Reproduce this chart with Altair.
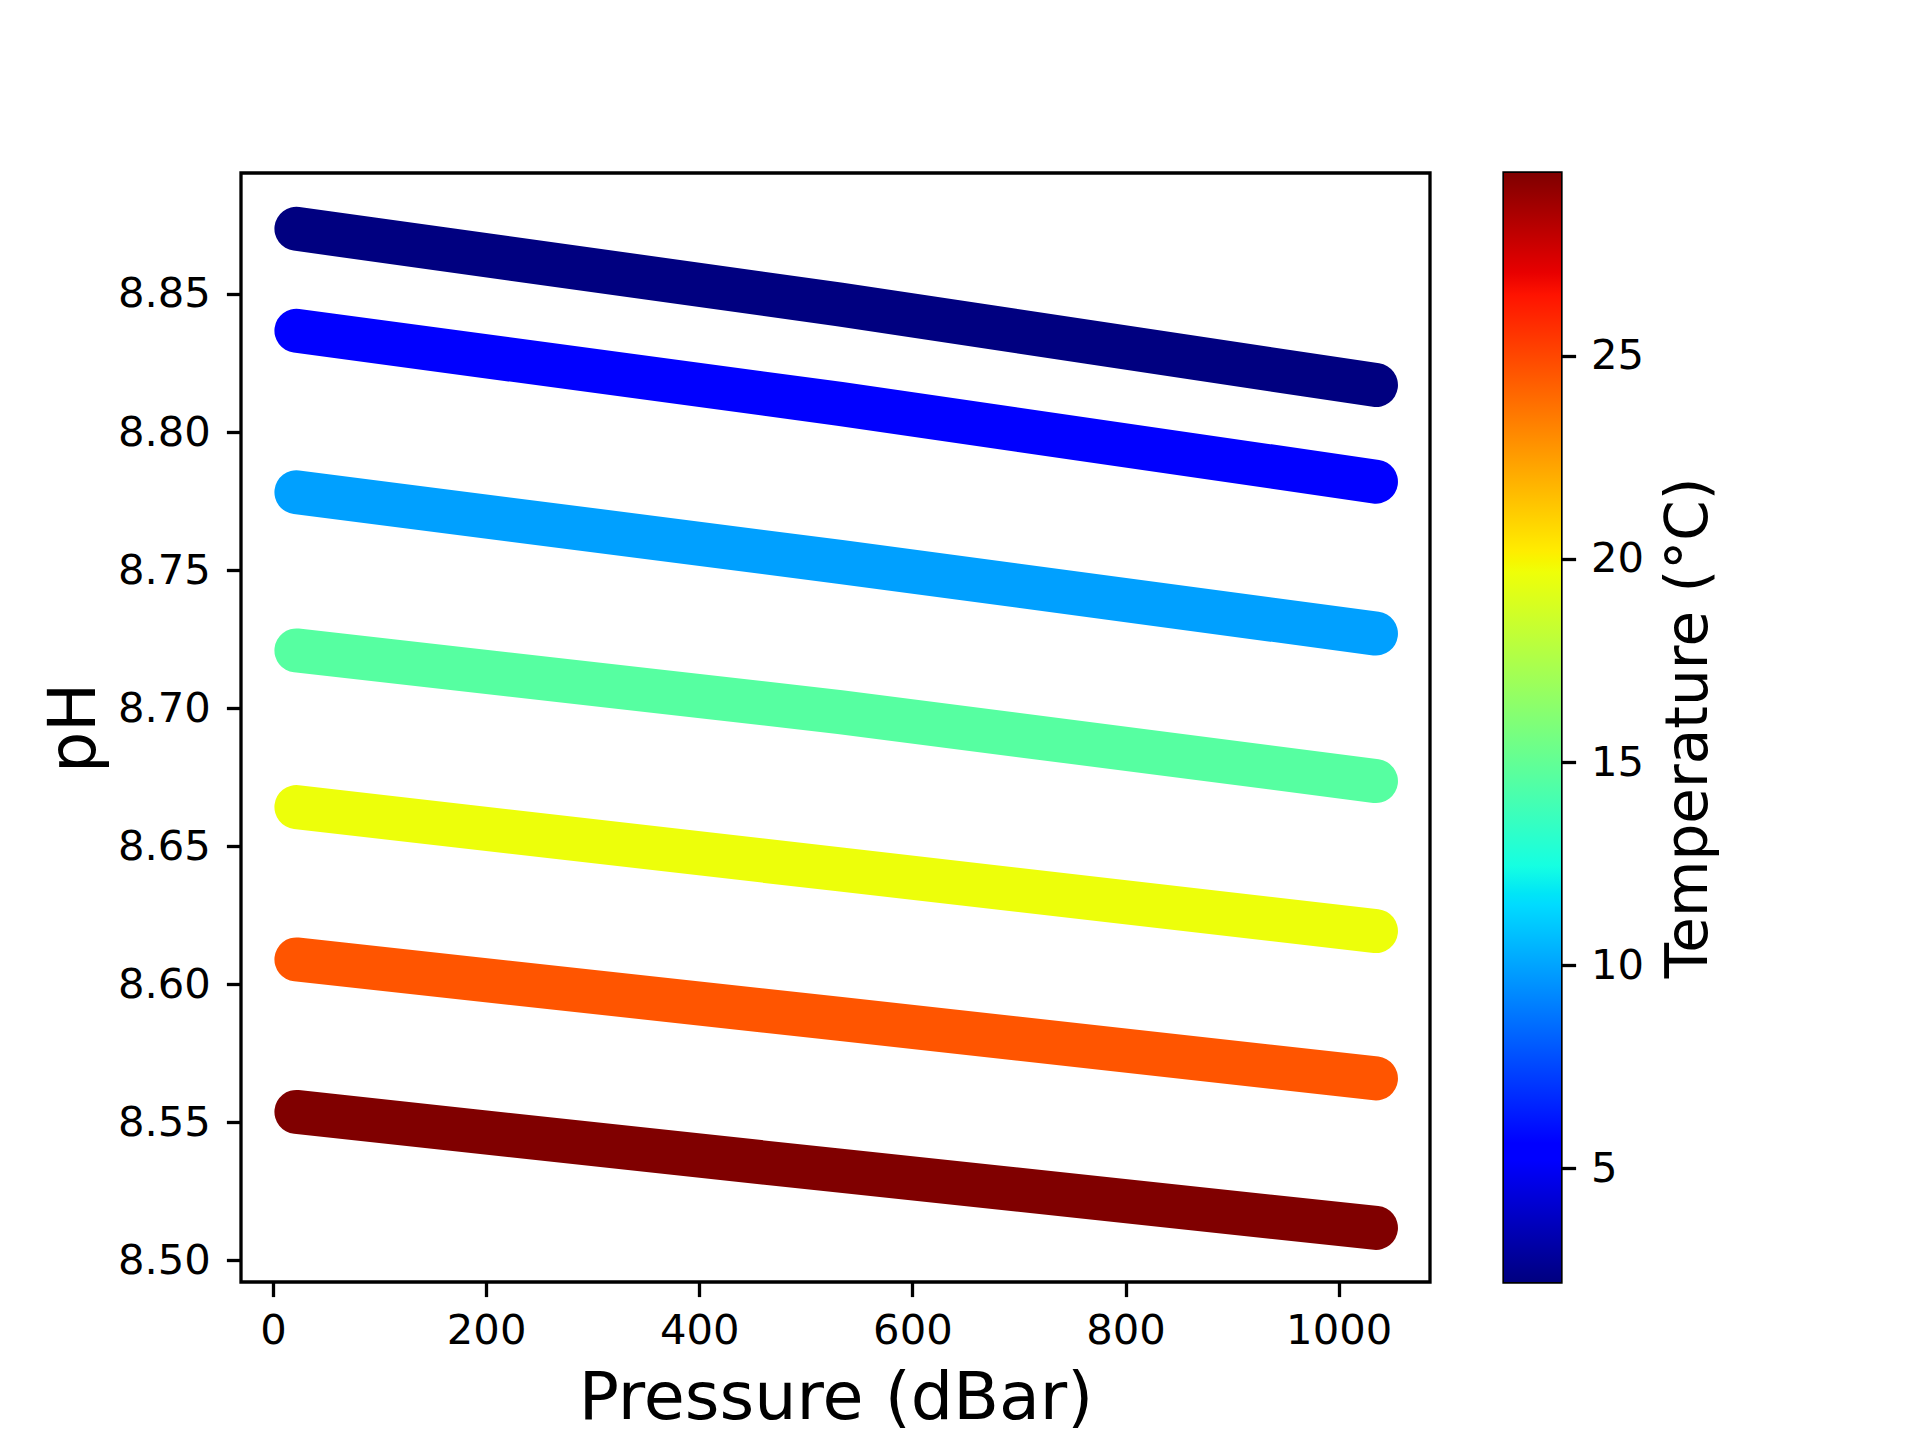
import altair as alt
import pandas as pd

# ---- data ----
pressure = [22, 532, 1035]                      # dBar (start, middle, end of each run)
temperatures = [2.2, 5.4, 9.9, 14.6, 19.6, 24.6, 29.5]   # °C of each run
ph_t1 = [8.8736, 8.8462, 8.8170]
ph_t2 = [8.8367, 8.8102, 8.7820]
ph_t3 = [8.7782, 8.7530, 8.7270]
ph_t4 = [8.7209, 8.6986, 8.6736]
ph_t5 = [8.6642, 8.6416, 8.6193]
ph_t6 = [8.6090, 8.5875, 8.5659]
ph_t7 = [8.5538, 8.5325, 8.5118]
ph_runs = [ph_t1, ph_t2, ph_t3, ph_t4, ph_t5, ph_t6, ph_t7]

x_ticks = [0, 200, 400, 600, 800, 1000]
y_ticks = [8.50, 8.55, 8.60, 8.65, 8.70, 8.75, 8.80, 8.85]
cbar_ticks = [5, 10, 15, 20, 25]

rows = []
for i, (t, run) in enumerate(zip(temperatures, ph_runs)):
    for p, v in zip(pressure, run):
        rows.append({"run": i, "Temperature": t, "Pressure": p, "pH": v})
df = pd.DataFrame(rows)

# ---- matplotlib "jet" colormap as piecewise stops ----
jet_r = [(0, 0), (0.35, 0), (0.66, 1), (0.89, 1), (1, 0.5)]
jet_g = [(0, 0), (0.125, 0), (0.375, 1), (0.64, 1), (0.91, 0), (1, 0)]
jet_b = [(0, 0.5), (0.11, 1), (0.34, 1), (0.65, 0), (1, 0)]


def seg(pts, f):
    for (x0, y0), (x1, y1) in zip(pts[:-1], pts[1:]):
        if x0 <= f <= x1:
            return y0 + (y1 - y0) * (f - x0) / (x1 - x0) if x1 > x0 else y1
    return pts[-1][1]


fracs = sorted({p[0] for s in (jet_r, jet_g, jet_b) for p in s})


def jet_hex(f):
    return "#%02x%02x%02x" % tuple(int(round(255 * seg(s, f))) for s in (jet_r, jet_g, jet_b))


tmin, tmax = min(temperatures), max(temperatures)
color_domain = [tmin + f * (tmax - tmin) for f in fracs]
color_range = [jet_hex(f) for f in fracs]

FONT = "DejaVu Sans"

main = alt.Chart(df).mark_line(strokeWidth=44, strokeCap="round", strokeJoin="round").encode(
    x=alt.X("Pressure:Q",
            scale=alt.Scale(domain=[-30, 1085.7], nice=False, zero=False),
            axis=alt.Axis(title="Pressure (dBar)", values=x_ticks, format="d",
                          labelPadding=14, titlePadding=13, titleFontSize=66.7,
                          labelFlush=False)),
    y=alt.Y("pH:Q",
            scale=alt.Scale(domain=[8.4922, 8.8938], nice=False, zero=False),
            axis=alt.Axis(title="pH", values=y_ticks, format=".2f",
                          labelPadding=16, titlePadding=9, titleFontSize=65)),
    color=alt.Color("Temperature:Q",
                    scale=alt.Scale(domain=color_domain, range=color_range, interpolate="rgb"),
                    legend=None),
    detail="run:N",
).properties(width=1189, height=1109)

gradient = alt.Gradient(
    gradient="linear",
    stops=[alt.GradientStop(offset=f, color=c) for f, c in zip(fracs, color_range)],
    x1=0, y1=1, x2=0, y2=0,
)

cbar = alt.Chart(pd.DataFrame({"lo": [tmin], "hi": [tmax]})).mark_rect(fill=gradient).encode(
    y=alt.Y("lo:Q",
            scale=alt.Scale(domain=[tmin, tmax], nice=False, zero=False),
            axis=alt.Axis(orient="right", title="Temperature (°C)", values=cbar_ticks, format="d",
                          labelPadding=15, titlePadding=17, titleFontSize=58,
                          titleAngle=270, titleBaseline="top")),
    y2="hi:Q",
    x=alt.value(0),
    x2=alt.value(57),
).properties(width=57, height=1109)

chart = alt.hconcat(main, cbar, spacing=70).properties(
    padding={"left": 32, "top": 163, "right": 20, "bottom": 10},
    background="white",
).configure_view(
    stroke="black", strokeWidth=3.3
).configure_axis(
    domain=False, grid=False,
    tickColor="black", tickWidth=3.3, tickSize=14.6,
    labelFont=FONT, labelFontSize=41.7, labelColor="black",
    titleFont=FONT, titleColor="black", titleFontWeight="normal",
)

chart.save("out.html", embed_options={"renderer": "svg", "actions": False})
